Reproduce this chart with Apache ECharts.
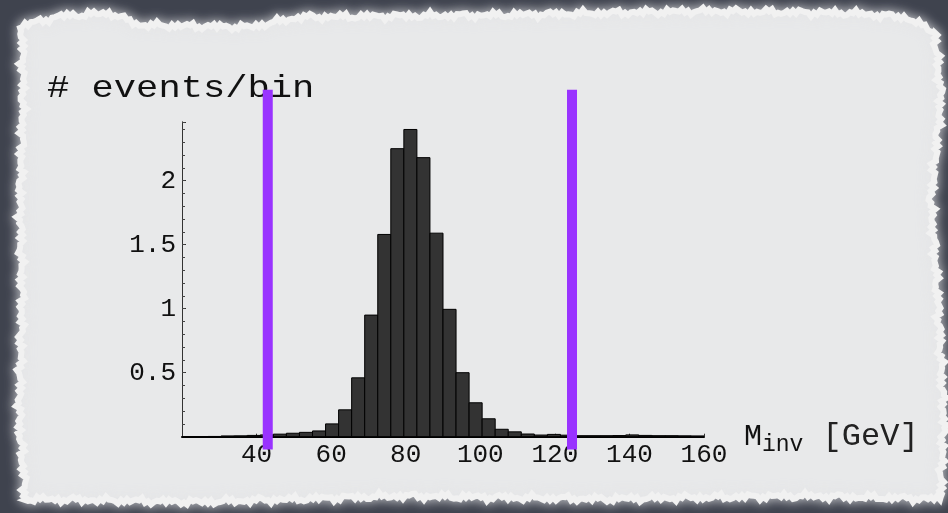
<!DOCTYPE html>
<html><head><meta charset="utf-8">
<script src="https://cdn.jsdelivr.net/npm/echarts@6/dist/echarts.min.js"></script>
<style>html,body{margin:0;padding:0;background:#3f434e;}#c{width:948px;height:513px;}</style>
</head><body><div id="c"></div>
<script>
// ---- data ----
const binStart = 20;
const binWidth = 3.5;
const binCounts = [0, 0, 0.002, 0.006, 0.007, 0.01, 0.014, 0.02, 0.027, 0.034,
  0.045, 0.10, 0.21, 0.46, 0.95, 1.58, 2.25, 2.40, 2.18, 1.59,
  0.995, 0.50, 0.265, 0.14, 0.058, 0.038, 0.021, 0.013, 0.018, 0.012,
  0.008, 0.008, 0.008, 0.009, 0.014, 0.01, 0.008, 0.008, 0.007, 0.006];
const cutValues = [43, 124.6];
const xTickLabels = [40, 60, 80, 100, 120, 140, 160];
const yTickLabels = [0.5, 1, 1.5, 2];
const yLabel = '# events/bin';

// ---- build ----
const bars = binCounts.map((v, i) => [binStart + i * binWidth, binStart + (i + 1) * binWidth, v]);
const cutSeries = cutValues.map(c => ({
  type: 'line', data: [[c, -0.1], [c, 2.71]], symbol: 'none', clip: false, z: 10,
  lineStyle: { color: '#9933ff', width: 10, cap: 'butt' }, silent: true
}));

// paper (decoration)
function interp(ctrl, t) {
  for (let i = 0; i < ctrl.length - 1; i++) {
    const a = ctrl[i], b = ctrl[i + 1];
    if ((t - a[0]) * (t - b[0]) <= 0) {
      const f = (t - a[0]) / ((b[0] - a[0]) || 1);
      return a[1] + f * (b[1] - a[1]);
    }
  }
  return ctrl[ctrl.length - 1][1];
}
function jit(t, s) { return 1.8 * Math.sin(t * 0.9 + s) + 1.3 * Math.sin(t * 2.3 + 2 * s) + 1.0 * Math.sin(t * 0.37 + s * 3); }
const topC = [[20, 26], [60, 16], [110, 13], [140, 25], [250, 27], [300, 17], [500, 15], [700, 11], [850, 13], [905, 17], [935, 32]];
const rightC = [[32, 935], [100, 941], [200, 931], [300, 938], [420, 944], [505, 940]];
const botC = [[940, 499], [800, 496], [600, 499], [400, 496], [200, 502], [25, 499]];
const leftC = [[505, 26], [420, 19], [300, 22], [200, 20], [100, 23], [26, 22]];
const pts = [];
for (let x = 22; x <= 935; x += 3) pts.push([x, interp(topC, x) + jit(x, 1)]);
for (let y = 32; y <= 499; y += 3) pts.push([interp(rightC, y) + jit(y, 2), y]);
for (let x = 940; x >= 25; x -= 3) pts.push([x, interp(botC, x) + jit(x, 3)]);
for (let y = 499; y >= 26; y -= 3) pts.push([interp(leftC, y) + jit(y, 4), y]);

const chart = echarts.init(document.getElementById('c'));
chart.setOption({
  backgroundColor: '#3f434e',
  animation: false,
  grid: { left: 182, right: 244, top: 121.8, bottom: 76.3 },
  xAxis: {
    type: 'value', min: 20, max: 160, interval: 20,
    name: '{m|M}{s|inv}{g| [GeV]}', nameLocation: 'end', nameGap: 40,
    nameTextStyle: {
      rich: {
        m: { fontFamily: 'Liberation Mono', fontSize: 30, color: '#111', lineHeight: 40, verticalAlign: 'middle' },
        s: { fontFamily: 'Liberation Mono', fontSize: 23, color: '#111', lineHeight: 22, verticalAlign: 'bottom' },
        g: { fontFamily: 'Liberation Mono', fontSize: 32, color: '#222', lineHeight: 40, verticalAlign: 'middle' }
      }
    },
    axisLine: { onZero: true, lineStyle: { color: '#000', width: 2 } },
    axisTick: { inside: true, length: 3, lineStyle: { color: '#333' } },
    splitLine: { show: false },
    axisLabel: {
      fontFamily: 'Liberation Mono', fontSize: 26, color: '#111', margin: 5,
      formatter: v => xTickLabels.includes(v) ? String(v) : ''
    }
  },
  yAxis: [{
    type: 'value', min: 0, max: 2.46, interval: 0.5,
    axisLine: { show: true, lineStyle: { color: '#333', width: 1 } },
    axisTick: { show: true, inside: true, length: 4, lineStyle: { color: '#333' } },
    splitLine: { show: false },
    axisLabel: {
      fontFamily: 'Liberation Mono', fontSize: 26, color: '#111', margin: 6,
      formatter: v => yTickLabels.includes(v) ? String(v) : ''
    }
  }, {
    type: 'value', min: 0, max: 2.46, interval: 0.1, position: 'left',
    axisLine: { show: false }, splitLine: { show: false }, axisLabel: { show: false },
    axisTick: { show: true, inside: true, length: 3, lineStyle: { color: '#444' } }
  }],
  graphic: [
    { type: 'polygon', z: -10, shape: { points: pts },
      style: { fill: '#e8e9ea', stroke: '#f1f1f1', lineWidth: 6, shadowBlur: 12, shadowColor: 'rgba(225,225,228,0.75)' } },
    { type: 'text', z: 5, x: 47, y: 89, scaleX: 1.16,
      style: { text: yLabel, fontFamily: 'Liberation Mono', fontSize: 32, fill: '#111', textAlign: 'left', textVerticalAlign: 'middle' } }
  ],
  series: [{
    type: 'custom', z: 3,
    data: bars,
    encode: { x: [0, 1], y: 2 },
    renderItem: (params, api) => {
      const p0 = api.coord([api.value(0), api.value(2)]);
      const p1 = api.coord([api.value(1), 0]);
      return { type: 'rect', shape: { x: p0[0], y: p0[1], width: p1[0] - p0[0], height: p1[1] - p0[1] },
        style: { fill: '#333333', stroke: '#000', lineWidth: 1 } };
    }
  }].concat(cutSeries)
});
</script></body></html>
